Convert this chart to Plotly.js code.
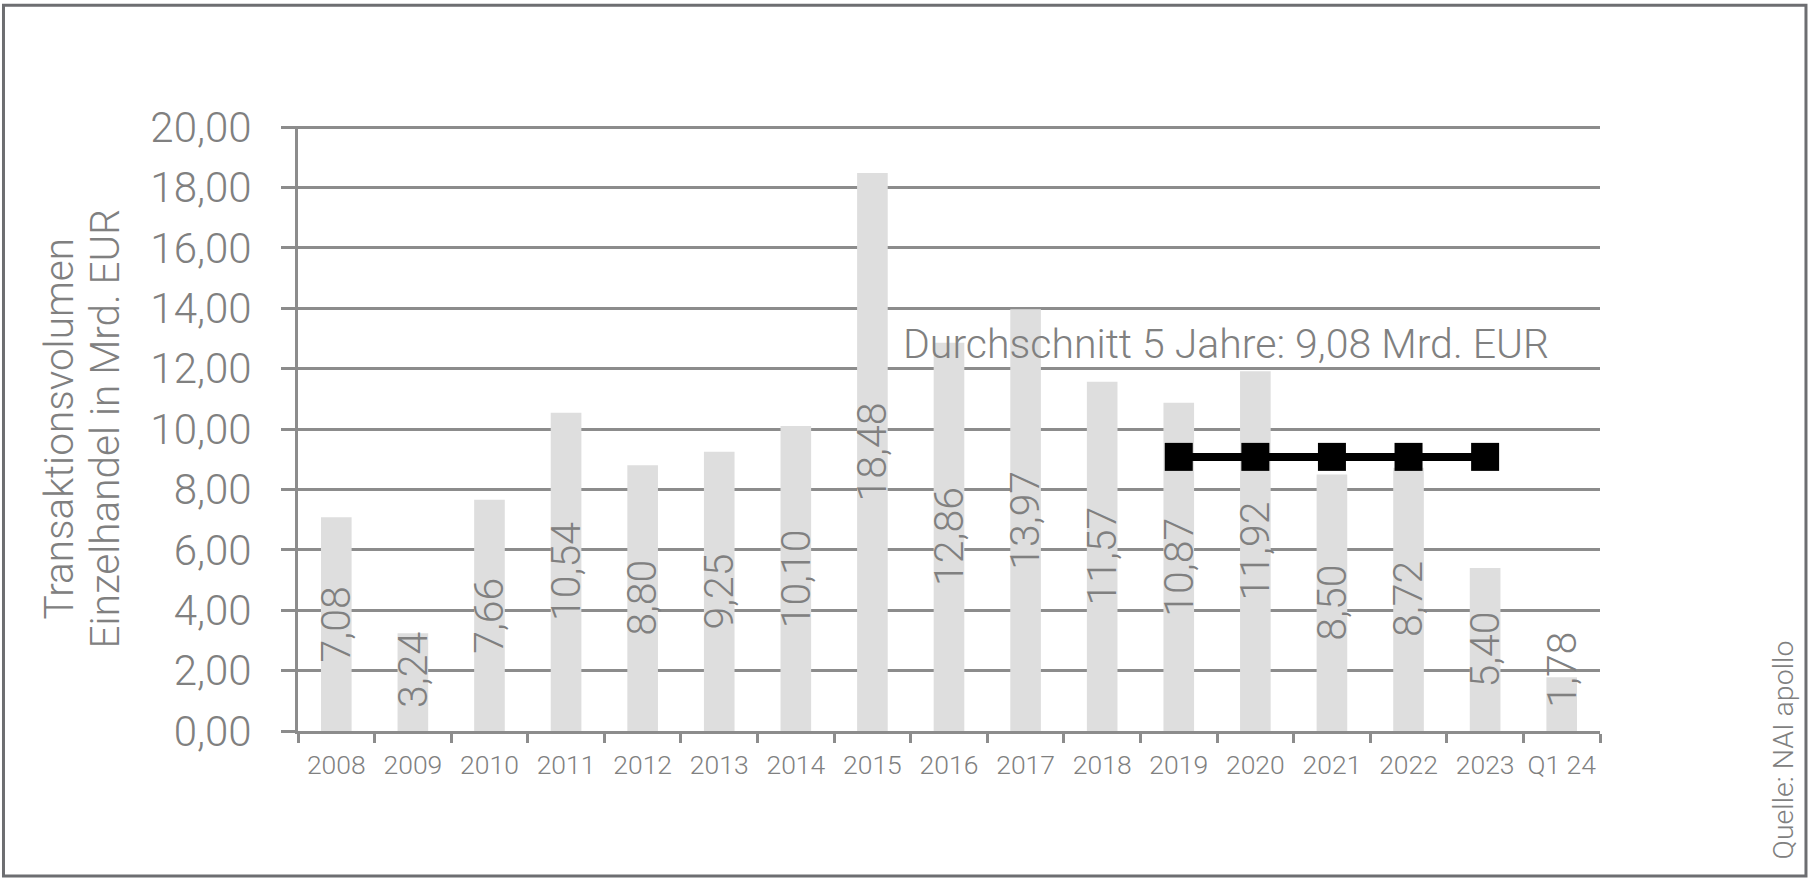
<!DOCTYPE html>
<html>
<head>
<meta charset="utf-8">
<script src="https://cdn.plot.ly/plotly-3.0.1.min.js"></script>
<style>
  html, body { margin: 0; padding: 0; background: #ffffff; }
  #chart { width: 1810px; height: 886px; }
</style>
</head>
<body>
<div id="chart"></div>
<script>
// ---- data ----
const categories = ['2008','2009','2010','2011','2012','2013','2014','2015','2016','2017','2018','2019','2020','2021','2022','2023','Q1 24'];
const volumes = [7.08, 3.24, 7.66, 10.54, 8.80, 9.25, 10.10, 18.48, 12.86, 13.97, 11.57, 10.87, 11.92, 8.50, 8.72, 5.40, 1.78];
const avgYears = ['2019','2020','2021','2022','2023'];
const avgValues = [9.08, 9.08, 9.08, 9.08, 9.08];
const avgLabel = 'Durchschnitt 5 Jahre: 9,08 Mrd. EUR';
const yTitleLines = ['Transaktionsvolumen', 'Einzelhandel in Mrd. EUR'];
const sourceText = 'Quelle: NAI apollo';

// ---- styling ----
const FONT = 'Roboto, "Liberation Sans", Arial, sans-serif';
const TEXT_GRAY = '#808080';
const LINE_GRAY = '#8c8c8c';
const BAR_GRAY = '#dedede';
const MIN_LABEL_CENTER = 2.02;

const fmt = v => v.toFixed(2).replace('.', ',');

const barTrace = {
  type: 'bar',
  x: categories,
  y: volumes,
  marker: { color: BAR_GRAY, line: { width: 0 } },
  hoverinfo: 'skip',
  showlegend: false
};

const avgTrace = {
  type: 'scatter',
  mode: 'lines+markers',
  x: avgYears,
  y: avgValues,
  line: { color: '#000000', width: 8 },
  marker: { symbol: 'square', size: 28, color: '#000000', line: { width: 0 } },
  hoverinfo: 'skip',
  showlegend: false
};

const annotations = [];
categories.forEach((c, i) => {
  annotations.push({
    x: i, xref: 'x',
    y: Math.max(volumes[i] / 2, MIN_LABEL_CENTER), yref: 'y',
    text: fmt(volumes[i]),
    textangle: -90,
    showarrow: false,
    xanchor: 'center', yanchor: 'middle',
    font: { family: FONT, size: 41, color: TEXT_GRAY, weight: 300 }
  });
});

annotations.push({
  x: 0.4631, xref: 'paper',
  y: 12.81, yref: 'y',
  text: avgLabel,
  showarrow: false,
  xanchor: 'left', yanchor: 'middle',
  font: { family: FONT, size: 41, color: TEXT_GRAY, weight: 300 }
});

// two-line rotated y-axis title
const titleX = [-0.1843, -0.1490];
yTitleLines.forEach((t, k) => {
  annotations.push({
    x: titleX[k], xref: 'paper',
    y: 0.5, yref: 'paper',
    text: t,
    textangle: -90,
    showarrow: false,
    xanchor: 'center', yanchor: 'middle',
    font: { family: FONT, size: 40.5, color: TEXT_GRAY, weight: 300 }
  });
});

annotations.push({
  x: 1.1406, xref: 'paper',
  y: -0.032, yref: 'paper',
  text: sourceText,
  textangle: -90,
  showarrow: false,
  xanchor: 'center', yanchor: 'middle',
  font: { family: FONT, size: 28.5, color: TEXT_GRAY, weight: 300 }
});

const layout = {
  width: 1810,
  height: 886,
  margin: { l: 298, r: 210, t: 126, b: 155, pad: 0 },
  paper_bgcolor: '#ffffff',
  plot_bgcolor: '#ffffff',
  separators: ',.',
  bargap: 0.6,
  showlegend: false,
  hovermode: false,
  xaxis: {
    type: 'category',
    categoryorder: 'array',
    categoryarray: categories,
    range: [-0.5, categories.length - 0.5],
    autorange: false,
    tickson: 'boundaries',
    ticks: 'outside',
    ticklen: 9,
    tickwidth: 3,
    tickcolor: LINE_GRAY,
    showline: true,
    linecolor: LINE_GRAY,
    linewidth: 3,
    showgrid: false,
    tickangle: 0,
    ticklabelstandoff: 8,
    tickfont: { family: FONT, size: 26.5, color: TEXT_GRAY, weight: 300 },
    fixedrange: true
  },
  yaxis: {
    range: [0, 20.04],
    autorange: false,
    dtick: 2,
    tick0: 0,
    tickformat: '.2f',
    ticks: 'outside',
    ticklen: 14,
    tickwidth: 3,
    tickcolor: LINE_GRAY,
    showline: true,
    linecolor: LINE_GRAY,
    linewidth: 3,
    showgrid: true,
    gridcolor: LINE_GRAY,
    gridwidth: 3,
    zeroline: false,
    ticklabelstandoff: 21,
    tickfont: { family: FONT, size: 42, color: TEXT_GRAY, weight: 300 },
    fixedrange: true
  },
  annotations: annotations,
  shapes: [{
    type: 'rect',
    xref: 'paper', yref: 'paper',
    x0: -0.2262, x1: 1.1582,
    y0: -0.2397, y1: 1.1995,
    line: { color: '#6d6e71', width: 3 },
    fillcolor: 'rgba(0,0,0,0)',
    layer: 'above'
  }]
};

Plotly.newPlot('chart', [barTrace, avgTrace], layout, { displayModeBar: false, staticPlot: true });
</script>
</body>
</html>
